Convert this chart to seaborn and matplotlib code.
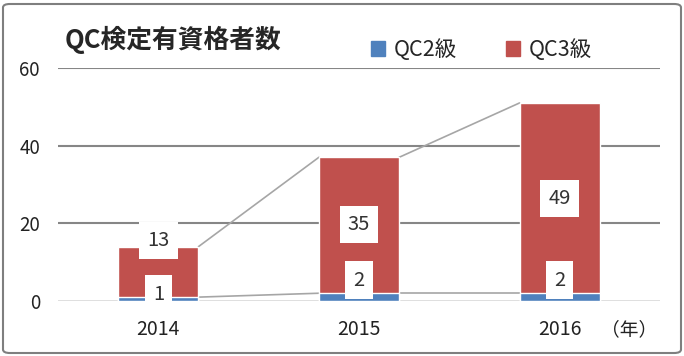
import matplotlib
matplotlib.use("Agg")
import matplotlib.pyplot as plt
import pandas as pd
import seaborn as sns
from matplotlib.patches import FancyBboxPatch, Patch

years = ["2014", "2015", "2016"]
qc2 = [1, 2, 2]
qc3 = [13, 35, 49]
series_names = ["QC2級", "QC3級"]
yticks = [0, 20, 40, 60]

# label heights (data units) as placed in the original chart
qc2_label_y = [1.8, 5.4, 5.4]
qc3_label_y = [15.6, 19.7, 26.3]

blue = "#4F81BD"
red = "#C0504D"

sns.set_theme(style="white")
plt.rcParams["font.family"] = ["Noto Sans CJK JP", "DejaVu Sans"]

df = pd.DataFrame({"year": years, "qc2": qc2, "qc3": qc3})
df["total"] = df["qc2"] + df["qc3"]

fig = plt.figure(figsize=(6.84, 3.56), dpi=100)
ax = fig.add_axes([58 / 684, 1 - 301 / 356, 602 / 684, 233 / 356])

sns.barplot(data=df, x="year", y="total", color=red, width=0.4,
            saturation=1, ax=ax, zorder=3)
sns.barplot(data=df, x="year", y="qc2", color=blue, width=0.4,
            saturation=1, ax=ax, zorder=4)

# gridlines
for t in yticks:
    ax.axhline(t, color="#D9D9D9" if t == 0 else "#868686",
               lw=1.2 if t == 0 else 1.5, zorder=1)

# series lines between stacked tops
half = 0.2
for tops in (df["qc2"].tolist(), df["total"].tolist()):
    for i in range(len(tops) - 1):
        ax.plot([i + half, i + 1 - half], [tops[i], tops[i + 1]],
                color="#A6A6A6", lw=1.2, zorder=2)

# data labels in white boxes
box = dict(boxstyle="square,pad=0.4", fc="white", ec="none")
for i in range(len(years)):
    ax.text(i, qc2_label_y[i], str(qc2[i]), ha="center", va="center",
            fontsize=14.5, color="#333333", bbox=box, zorder=6)
    ax.text(i, qc3_label_y[i], str(qc3[i]), ha="center", va="center",
            fontsize=14.5, color="#333333", bbox=box, zorder=6)

ax.set_ylim(0, 60)
ax.set_xlim(-0.5, 2.5)
ax.set_yticks(yticks)
ax.set_xlabel("")
ax.set_ylabel("")
ax.tick_params(axis="y", length=0, pad=13, labelsize=13.5, labelcolor="#222222")
ax.tick_params(axis="x", length=0, pad=13, labelsize=14, labelcolor="#222222")
sns.despine(ax=ax, left=True, bottom=True)
ax.set_facecolor("none")

fig.text(65 / 684, 1 - 40 / 356, "QC検定有資格者数", fontsize=18.5,
         fontweight="bold", va="center", ha="left")
fig.text(657 / 684, 1 - 330 / 356, "（年）", fontsize=13.5, va="center",
         ha="right", color="#222222")

handles = [Patch(color=blue), Patch(color=red)]
fig.legend(handles, series_names, loc="center left",
           bbox_to_anchor=(360 / 684, 1 - 50 / 356), ncol=2, frameon=False,
           fontsize=15.5, handlelength=0.65, handleheight=0.65,
           handletextpad=0.4, columnspacing=2.3, borderpad=0)

border = FancyBboxPatch((3 / 684, 3 / 356), 678 / 684, 349 / 356,
                        boxstyle="round,pad=0,rounding_size=0.01",
                        transform=fig.transFigure, fc="none",
                        ec="#7F7F7F", lw=1.5)
fig.patches.append(border)

fig.savefig("out.png", dpi=100)
